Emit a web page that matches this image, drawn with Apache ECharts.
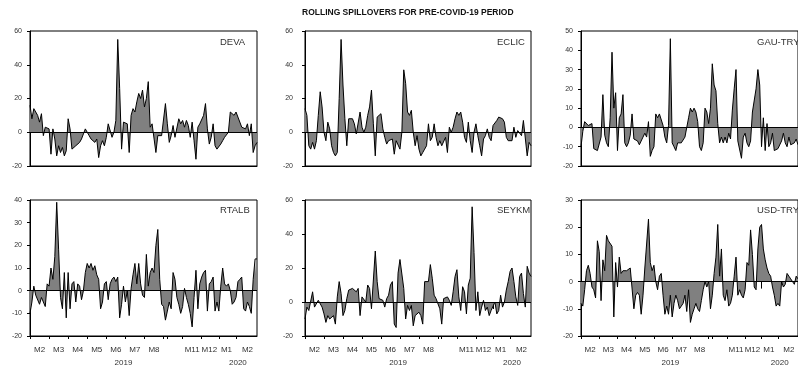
<!DOCTYPE html>
<html><head><meta charset="utf-8">
<script src="https://cdn.jsdelivr.net/npm/echarts@6/dist/echarts.min.js"></script>
<style>html,body{margin:0;padding:0;background:#fff}#c{width:798px;height:367px}</style>
</head><body><div id="c"></div>
<script>
// ---- data ----
const chartTitle = 'ROLLING SPILLOVERS FOR PRE-COVID-19 PERIOD';
const monthLabels = ['M2','M3','M4','M5','M6','M7','M8','','','M11','M12','M1','M2'];
const monthYears  = [2019,2019,2019,2019,2019,2019,2019,2019,2019,2019,2019,2020,2020];
const monthCounts = [10,10,10,10,10,10,10,2,8,10,9,9,12];
const panelNames = ['DEVA','ECLIC','GAU-TRY','RTALB','SEYKM','USD-TRY'];
const yMin = [-20,-20,-20,-20,-20,-20];
const yMax = [60,60,50,40,60,30];
const yStep = [20,20,10,10,20,10];

const deva = [16,8,14,12,10,6,11,-2,3,4,2,-13,2,-4,-14,-8,-12,-9,-14,-11,
 8,2,-10,-10,-8,-7,-6,-4,-1,2,1,-2,-4,-5,-6,-4,-15,-8,-5,-8,
 -3,5,5,-3,0,7,55,26,-10,6,5,5,-12,10,14,12,18,23,20,25,
 15,20,30,3,5,4,-12,-2,-1,-2,-1,17,5,-6,-2,4,-3,-2,8,5,
 7,3,7,4,-3,6,-5,-16,3,5,5,10,17,2,-7,-3,5,-8,-10,-9,
 -7,-5,-3,-2,0,12,11,10,12,9,10,3,4,2,5,-2,5,-12,-8,-6];
const eclic = [14,10,-8,-10,-6,-10,-5,10,24,15,0,-5,6,2,-8,-12,-14,-12,20,55,
 28,8,-8,8,7,8,5,-1,-2,12,3,0,3,10,15,25,5,-14,9,10,
 11,2,-3,-7,-5,-6,-4,-13,-5,-6,-10,0,37,29,12,10,13,0,-8,-2,
 -10,-14,-12,-10,-8,5,-5,-3,5,-3,-8,-5,-8,-7,-3,-12,3,0,3,8,
 12,10,12,6,-3,-6,6,-5,-12,0,5,-2,-8,-14,-4,-2,2,-3,-5,4,
 4,7,9,8,8,6,-3,-5,-4,-5,3,-3,1,2,-2,7,6,-14,-6,-8];
const gauTry = [-10,-2,3,4,1,0,2,-11,-12,-12,-13,-5,17,-4,-8,-10,5,39,10,18,
 -12,5,7,17,-8,-10,-8,-4,7,-6,-7,-7,-9,-8,-5,-3,-5,3,-15,-12,
 -10,7,5,7,6,1,-5,-8,1,46,-8,-10,-12,-8,-9,-8,-7,-5,0,5,
 10,8,10,8,3,-10,-12,-8,10,8,2,10,33,22,19,2,-8,-5,-8,-5,
 -8,-3,-6,9,20,30,-7,-8,-16,-5,-3,-8,-10,-7,8,7,20,30,22,-10,
 5,-12,2,-10,-8,-3,-12,-11,-11,-12,-7,-3,-8,-10,-5,-9,-10,-8,-6,-9];
const rtalb = [-10,-5,2,-2,-2,-6,-3,-5,-7,3,2,10,5,15,39,18,-3,-8,8,-12,
 8,-8,3,4,-5,3,2,-4,0,8,12,10,12,9,11,7,5,-8,-5,3,
 4,-4,3,5,6,4,6,-12,-6,2,-5,0,-11,1,7,12,3,12,3,-2,
 -3,16,2,8,10,8,20,27,5,-6,-7,-13,-9,-5,-8,8,5,-3,-6,-10,
 -7,1,-3,-6,-10,-16,-3,9,-8,3,6,8,9,-9,3,4,6,-9,-5,-9,
 2,10,3,2,3,0,-6,-5,-3,4,5,6,-8,-9,-5,-7,-10,5,14,14];
const seykm = [-10,-3,-5,-6,6,-3,-4,1,2,-3,-7,-12,-8,-10,-11,-8,-13,3,12,5,
 -8,-5,2,7,8,8,7,6,8,-8,3,2,0,10,8,-4,-4,30,12,2,
 2,1,-3,2,4,10,12,-13,-15,17,25,25,8,-10,-2,-5,-2,-14,-8,-7,
 -6,-8,-13,12,13,12,22,14,4,2,1,-4,-13,2,3,3,1,-2,6,15,
 19,3,-5,9,6,-7,10,14,56,29,-5,6,-8,-3,1,-5,-3,-8,-5,-5,
 0,-7,-5,4,-3,0,7,12,18,20,12,3,-2,15,17,5,-3,21,17,15];
const usdTry = [-8,-9,-3,4,6,3,-2,-3,-6,15,11,-7,8,4,17,15,15,13,-13,7,
 -2,9,3,4,4,4,4,5,5,-10,-5,-4,-5,-12,-5,5,5,23,7,4,
 6,0,-3,2,3,-5,-12,-9,-12,-5,-13,-8,-5,-7,-10,-9,-8,-5,-11,-3,
 -15,-12,-10,-8,-10,-11,-7,-3,0,-2,0,-10,-5,3,9,21,2,12,-5,-7,
 -3,-9,-8,-5,2,9,-5,-3,-5,-6,-3,7,6,19,10,-2,-3,12,20,21,
 12,8,5,3,2,-2,-5,-9,-8,-9,0,-2,-1,3,2,1,0,-1,2,1];
const panelData = [deva, eclic, gauTry, rtalb, seykm, usdTry];

// ---- build category axis from months ----
const categories = [], monthLabelAt = [], yearLabelAt = [], monthStart = new Set(), yearStart = new Set();
const yearRange = {};
monthCounts.forEach((n, m) => {
  const start = categories.length;
  monthStart.add(start);
  if (m > 0 && monthYears[m] !== monthYears[m-1]) yearStart.add(start);
  for (let k = 0; k < n; k++) {
    const idx = categories.length;
    categories.push(monthYears[m] + '-' + m + '-' + k);
    monthLabelAt.push(k === Math.floor(n / 2) ? monthLabels[m] : '');
    yearLabelAt.push('');
    const y = monthYears[m];
    if (!yearRange[y]) yearRange[y] = [idx, idx];
    yearRange[y][1] = idx;
  }
});
Object.keys(yearRange).forEach(y => {
  const r = yearRange[y];
  yearLabelAt[Math.round((r[0] + r[1]) / 2)] = String(y);
});

// ---- layout ----
const FONT = 'Liberation Sans, Arial, sans-serif';
const colLeft = [30, 305, 581];
const colWidth = [227, 226, 227];
const rowTop = [31, 200];
const rowHeight = [135, 136];
const yLabelMargin = [8, 12, 8];
const nameLeft = [220, 497, 757];
const nameTop = [37, 205];

const grids = [], xAxes = [], yAxes = [], series = [];
const titles = [{
  text: chartTitle, left: 302, top: 8, padding: 0,
  textStyle: {fontFamily: FONT, fontSize: 8.5, fontWeight: 'bold', color: '#111'}
}];

for (let p = 0; p < 6; p++) {
  const col = p % 3, row = Math.floor(p / 3);
  grids.push({left: colLeft[col], top: rowTop[row], width: colWidth[col], height: rowHeight[row],
    show: true, borderColor: '#000', borderWidth: 1, backgroundColor: 'transparent', containLabel: false});
  titles.push({text: panelNames[p], left: nameLeft[col], top: nameTop[row], padding: 0,
    textStyle: {fontFamily: FONT, fontSize: 9.5, fontWeight: 'normal', color: '#333'}});
  xAxes.push({
    type: 'category', gridIndex: p, data: categories, boundaryGap: false, position: 'bottom',
    axisLine: {show: true, onZero: false, lineStyle: {color: '#000', width: 1}},
    axisTick: {show: row === 1, length: 3, lineStyle: {color: '#000'},
      interval: (i) => monthStart.has(i)},
    axisLabel: {show: row === 1, fontFamily: FONT, fontSize: 8, color: '#333', margin: 10,
      interval: (i) => monthLabelAt[i] !== '', formatter: (v, i) => monthLabelAt[i]},
    splitLine: {show: false}
  });
  yAxes.push({
    type: 'value', gridIndex: p, min: yMin[p], max: yMax[p], interval: yStep[p],
    axisLine: {show: true, lineStyle: {color: '#000', width: 1}},
    axisTick: {show: true, length: 3, lineStyle: {color: '#000'}},
    axisLabel: {fontFamily: FONT, fontSize: 7, color: '#333', margin: yLabelMargin[col]},
    splitLine: {show: false}
  });
  series.push({
    type: 'line', xAxisIndex: p, yAxisIndex: p, data: panelData[p],
    symbol: 'none', showSymbol: false, silent: true,
    lineStyle: {color: '#000', width: 1}, itemStyle: {color: '#000'},
    areaStyle: {color: '#808080', opacity: 1},
    markLine: {silent: true, symbol: 'none', animation: false,
      label: {show: false}, lineStyle: {color: '#000', type: 'solid', width: 1},
      data: [{yAxis: 0}]}
  });
}
// year label axes for bottom row
for (let p = 3; p < 6; p++) {
  xAxes.push({
    type: 'category', gridIndex: p, data: categories, boundaryGap: false, position: 'bottom',
    axisLine: {show: false},
    axisTick: {show: true, length: 7, lineStyle: {color: '#000'}, interval: (i) => yearStart.has(i)},
    axisLabel: {show: true, fontFamily: FONT, fontSize: 8, color: '#333', margin: 23,
      interval: (i) => yearLabelAt[i] !== '', formatter: (v, i) => yearLabelAt[i]},
    splitLine: {show: false}
  });
}

const chart = echarts.init(document.getElementById('c'), null, {renderer: 'canvas'});
chart.setOption({
  animation: false, backgroundColor: '#fff',
  title: titles, grid: grids, xAxis: xAxes, yAxis: yAxes, series: series
});
</script></body></html>
